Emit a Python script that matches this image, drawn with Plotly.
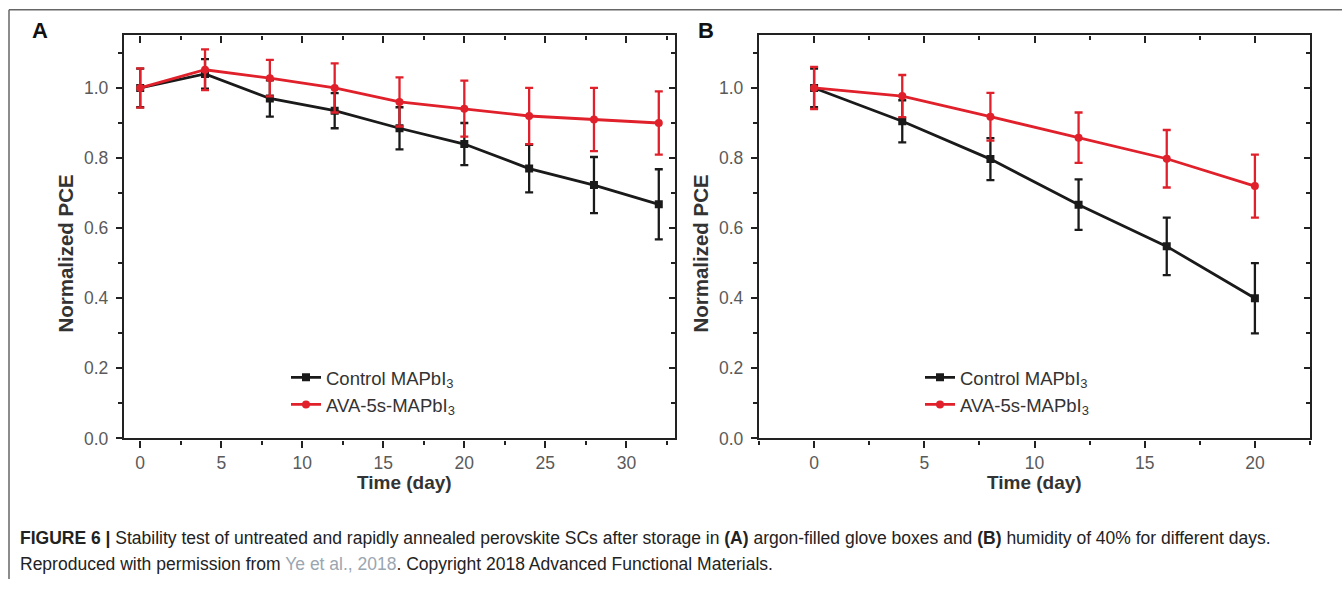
import plotly.graph_objects as go

W, H = 1342, 589

# ---- data ----
days_a = [0, 4, 8, 12, 16, 20, 24, 28, 32]
ctrl_a = [1.00, 1.04, 0.97, 0.935, 0.885, 0.84, 0.77, 0.723, 0.668]
ctrl_a_err = [0.055, 0.042, 0.052, 0.05, 0.06, 0.06, 0.068, 0.08, 0.10]
ava_a = [1.00, 1.052, 1.028, 1.00, 0.96, 0.941, 0.92, 0.91, 0.90]
ava_a_err = [0.056, 0.058, 0.052, 0.07, 0.07, 0.08, 0.08, 0.09, 0.09]

days_b = [0, 4, 8, 12, 16, 20]
ctrl_b = [1.00, 0.905, 0.797, 0.667, 0.548, 0.40]
ctrl_b_err = [0.055, 0.06, 0.06, 0.072, 0.082, 0.10]
ava_b = [1.00, 0.977, 0.918, 0.858, 0.798, 0.72]
ava_b_err = [0.06, 0.06, 0.068, 0.072, 0.082, 0.09]

series_names = ["Control MAPbI<sub>3</sub>", "AVA-5s-MAPbI<sub>3</sub>"]
x_ticks_a = [0, 5, 10, 15, 20, 25, 30]
x_ticks_b = [0, 5, 10, 15, 20]
y_ticks = [0.0, 0.2, 0.4, 0.6, 0.8, 1.0]

BLACK = "#1a1a1a"
RED = "#e0202a"
FONT = "Liberation Sans, Arial, sans-serif"

def px(x):
    return x / W

def py(y):
    return 1 - y / H

fig = go.Figure()

def add_series(x, y, err, name, color, symbol, xa, ya, leg):
    fig.add_trace(go.Scatter(
        x=x, y=y, name=name, mode="lines+markers",
        line=dict(color=color, width=2.8),
        marker=dict(color=color, size=8, symbol=symbol),
        error_y=dict(type="data", array=err, color=color, thickness=2.3, width=4),
        xaxis=xa, yaxis=ya, showlegend=True, legend=leg,
    ))

add_series(days_a, ctrl_a, ctrl_a_err, series_names[0], BLACK, "square", "x", "y", "legend")
add_series(days_a, ava_a, ava_a_err, series_names[1], RED, "circle", "x", "y", "legend")
add_series(days_b, ctrl_b, ctrl_b_err, series_names[0], BLACK, "square", "x2", "y2", "legend2")
add_series(days_b, ava_b, ava_b_err, series_names[1], RED, "circle", "x2", "y2", "legend2")

# empty helper traces so that the mirrored top/right axes are drawn
for xa, ya in [("x3", "y"), ("x", "y3"), ("x4", "y2"), ("x2", "y4")]:
    fig.add_trace(go.Scatter(x=[None], y=[None], xaxis=xa, yaxis=ya, showlegend=False,
                             hoverinfo="skip", mode="markers"))

dom_a = [px(124), px(675)]
dom_b = [px(759), px(1310)]
dom_y = [py(446), py(36)]
rng_y = [0, 1.15]
rng_a = [-1, 33]
rng_b = [-2.5, 22.5]

tickfont = dict(family=FONT, size=17.5, color="#5a5a5a")
axcol = "#222222"

def xaxis(domain, rng, ticks, anchor):
    return dict(domain=domain, range=rng, tickvals=ticks, ticks="outside", ticklen=7,
                tickwidth=2, tickcolor=axcol, showline=True, linecolor=axcol, linewidth=2.4,
                showgrid=False, zeroline=False, tickfont=tickfont, anchor=anchor,
                minor=dict(ticks="outside", ticklen=4, tickwidth=2, tickcolor=axcol,
                           dtick=2.5, tick0=0, showgrid=False), fixedrange=True)

def yaxis(domain, anchor):
    return dict(domain=domain, range=rng_y, tickvals=y_ticks, ticktext=[f"{v:.1f}" for v in y_ticks],
                ticks="outside", ticklen=6, tickwidth=2, tickcolor=axcol, showline=True,
                linecolor=axcol, linewidth=2.4, showgrid=False, zeroline=False, tickfont=tickfont,
                anchor=anchor, ticklabelstandoff=4,
                minor=dict(ticks="outside", ticklen=4, tickwidth=2, tickcolor=axcol,
                           dtick=0.1, tick0=0, showgrid=False), fixedrange=True)

def top_axis(over, rng, ticks, anchor):
    return dict(overlaying=over, side="top", range=rng, tickvals=ticks, ticks="inside", ticklen=7,
                tickwidth=2, tickcolor=axcol, showline=True, linecolor=axcol, linewidth=2.4,
                showgrid=False, zeroline=False, showticklabels=False, anchor=anchor,
                minor=dict(ticks="inside", ticklen=4, tickwidth=2, tickcolor=axcol, dtick=2.5,
                           tick0=0, showgrid=False), fixedrange=True)

def right_axis(over, anchor):
    return dict(overlaying=over, side="right", range=rng_y, tickvals=y_ticks, ticks="inside",
                ticklen=6, tickwidth=2, tickcolor=axcol, showline=True, linecolor=axcol,
                linewidth=2.4, showgrid=False, zeroline=False, showticklabels=False, anchor=anchor,
                minor=dict(ticks="inside", ticklen=4, tickwidth=2, tickcolor=axcol, dtick=0.1,
                           tick0=0, showgrid=False), fixedrange=True)

legend_font = dict(family=FONT, size=18.5, color="#333333")

fig.update_layout(
    width=W, height=H, margin=dict(l=0, r=0, t=0, b=0),
    paper_bgcolor="white", plot_bgcolor="white",
    xaxis=xaxis(dom_a, rng_a, x_ticks_a, "y"),
    yaxis=yaxis(dom_y, "x"),
    xaxis2=xaxis(dom_b, rng_b, x_ticks_b, "y2"),
    yaxis2=yaxis(dom_y, "x2"),
    xaxis3=top_axis("x", rng_a, x_ticks_a, "y"),
    yaxis3=right_axis("y", "x"),
    xaxis4=top_axis("x2", rng_b, x_ticks_b, "y2"),
    yaxis4=right_axis("y2", "x2"),
    legend=dict(x=px(286), y=py(365), xanchor="left", yanchor="top", bgcolor="rgba(0,0,0,0)",
                font=legend_font, tracegroupgap=0, itemwidth=30),
    legend2=dict(x=px(920), y=py(365), xanchor="left", yanchor="top", bgcolor="rgba(0,0,0,0)",
                 font=legend_font, tracegroupgap=0, itemwidth=30),
    showlegend=True,
)

title_font = dict(family=FONT, size=19, color="#333333")
ylab_font = dict(family=FONT, size=20.5, color="#333333")
ann = []
for cx, txt in [(405, "Time (day)"), (1034, "Time (day)")]:
    ann.append(dict(x=px(cx), y=py(491), xref="paper", yref="paper", text=f"<b>{txt}</b>",
                    showarrow=False, font=title_font, xanchor="center", yanchor="middle"))
for cx in [66, 701]:
    ann.append(dict(x=px(cx), y=py(258), xref="paper", yref="paper", text="<b>Normalized PCE</b>",
                    textangle=-90, showarrow=False, font=ylab_font, xanchor="center", yanchor="middle"))
for cx, lab in [(40, "A"), (706, "B")]:
    ann.append(dict(x=px(cx), y=py(31), xref="paper", yref="paper", text=f"<b>{lab}</b>",
                    showarrow=False, font=dict(family=FONT, size=22, color="#111111"),
                    xanchor="center", yanchor="middle"))

cap_font = dict(family=FONT, size=17.5, color="#222222")
ann.append(dict(x=px(18), y=py(547), xref="paper", yref="paper", xanchor="left", yanchor="middle",
                showarrow=False, font=cap_font, align="left",
                text="<b>FIGURE 6 |</b> Stability test of untreated and rapidly annealed perovskite SCs after "
                     "storage in <b>(A)</b> argon-filled glove boxes and <b>(B)</b> humidity of 40% for different days."))
ann.append(dict(x=px(18), y=py(574), xref="paper", yref="paper", xanchor="left", yanchor="middle",
                showarrow=False, font=cap_font, align="left",
                text="Reproduced with permission from <span style='color:#9aa6b0'>Ye et al., 2018</span>. "
                     "Copyright 2018 Advanced Functional Materials."))
fig.update_layout(annotations=ann)

fig.update_layout(shapes=[
    dict(type="line", xref="paper", yref="paper", x0=px(9), x1=1.0, y0=py(10), y1=py(10),
         line=dict(color="#666666", width=1.5), layer="above"),
    dict(type="line", xref="paper", yref="paper", x0=px(9), x1=px(9), y0=py(10), y1=0,
         line=dict(color="#666666", width=1.5), layer="above"),
])

fig.write_html("out.html", config={"displayModeBar": False},
               post_script="document.body.style.margin='0';")
